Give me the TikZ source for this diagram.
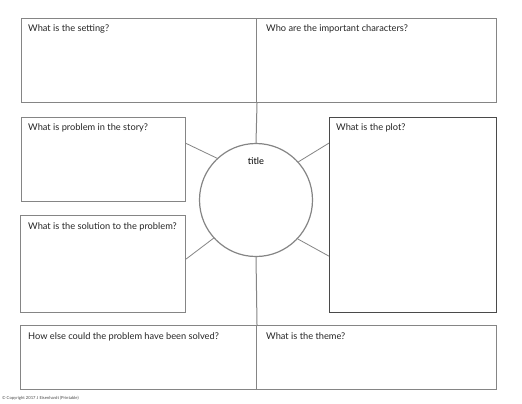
\documentclass[tikz,border=0pt]{standalone}
\usepackage{fontspec}
\setmainfont{Lato}
\usetikzlibrary{calc}
\definecolor{lg}{HTML}{858585}
\definecolor{dg}{HTML}{4A4A4A}
\tikzset{
  panel/.style={draw=lg, line width=1bp, anchor=north west, inner sep=0, minimum width=#1},
  q/.style={anchor=base west, inner sep=0, font=\fontsize{9.3}{11}\selectfont, text=black!85},
  spoke/.style={draw=lg, line width=0.8bp},
}
\begin{document}
\begin{tikzpicture}[x=1bp,y=-1bp]
\useasboundingbox (0,0) rectangle (522,403);
\fill[white] (0,0) rectangle (522,403);
% top row
\node[panel=235bp, minimum height=84bp] (setting) at (21,18) {};
\node[panel=240bp, minimum height=84bp] (chars) at (256,18) {};
% middle
\node[panel=164bp, minimum height=84bp] (prob) at (21,117) {};
\node[panel=165bp, minimum height=97bp] (sol) at (20,215) {};
\node[panel=167bp, minimum height=195bp, draw=dg] (plot) at (329,117) {};
% bottom row
\node[panel=236bp, minimum height=64bp] (how) at (20,325) {};
\node[panel=240bp, minimum height=64bp] (theme) at (256,325) {};
% circle
\node[circle, draw=lg, line width=1.2bp, minimum size=113bp, inner sep=0] (circ) at (256,200) {};
\node[anchor=base, inner sep=0, font=\fontsize{9.3}{11}\selectfont] (ttl) at (256,164) {title};
% connectors
\draw[draw=lg, line width=1bp] (setting.south east) -- (circ.north);
\draw[draw=lg, line width=1bp] (circ.south) -- (how.north east);
\coordinate (pa) at ($(prob.north east)!0.31!(prob.south east)$);
\coordinate (sa) at ($(sol.north east)!0.45!(sol.south east)$);
\coordinate (ta) at ($(plot.north west)!0.133!(plot.south west)$);
\coordinate (tb) at ($(plot.north west)!0.71!(plot.south west)$);
\draw[spoke] (pa) -- (circ.133);
\draw[spoke] (ta) -- (circ.42);
\draw[spoke] (sa) -- (circ.222);
\draw[spoke] (tb) -- (circ.-43);
% texts
\node[q] (t1) at (28,31) {What is the setting?};
\node[q] (t2) at (266,31) {Who are the important characters?};
\node[q] (t3) at (28,130) {What is problem in the story?};
\node[q] (t4) at (28,229) {What is the solution to the problem?};
\node[q] (t5) at (336,130) {What is the plot?};
\node[q] (t6) at (28,339) {How else could the problem have been solved?};
\node[q] (t7) at (266,339) {What is the theme?};
\node[anchor=base west, inner sep=0, font=\fontsize{4.2}{5}\selectfont, text=black!70] (copy) at (2,399) {\textcopyright{} Copyright 2017 J Eisenhardt (Printable)};
\end{tikzpicture}
\end{document}
